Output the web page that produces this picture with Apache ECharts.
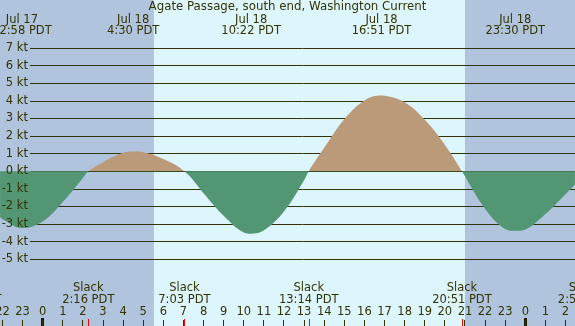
<!DOCTYPE html>
<html>
<head>
<meta charset="utf-8">
<title>Agate Passage, south end, Washington Current</title>
<script src="https://cdn.jsdelivr.net/npm/echarts@6.0.0/dist/echarts.min.js"></script>
<style>
  html, body { margin: 0; padding: 0; }
  #chart { width: 575px; height: 326px; }
</style>
</head>
<body>
<div id="chart"></div>
<script>
// hours counted from Jul 18 00:00 PDT, current in knots (flood +, ebb -)
const hours = [-2.12, -2, -1.03, 0, 1, 2, 2.27, 3, 4, 4.5, 5, 6, 7.05, 8, 9, 10, 10.37, 11, 12, 13, 13.23,
  14, 15, 16, 16.85, 17, 18, 19, 20, 20.85, 22, 23, 23.5, 24, 25, 26, 26.47];
const knots = [-2.6, -2.72, -3.22, -2.85, -1.75, -0.38, 0, 0.52, 1.05, 1.13, 1.08, 0.7, 0, -1.24, -2.52, -3.47, -3.54, -3.35, -2.28, -0.51, 0,
  1.33, 2.95, 4.02, 4.3, 4.29, 3.92, 2.93, 1.51, 0, -2.12, -3.27, -3.38, -3.3, -2.43, -1.3, -0.75];

// max current (top labels)
const peakHours = [-1.033, 4.5, 10.367, 16.85, 23.5];
const peakDays = ['Jul 17', 'Jul 18', 'Jul 18', 'Jul 18', 'Jul 18'];
const peakTimes = ['22:58', '4:30', '10:22', '16:51', '23:30'];

// slack water (bottom labels + red ticks)
const slackHours = [-3.533, 2.267, 7.05, 13.233, 20.85, 26.92];
const slackTimes = ['20:28', '2:16', '7:03', '13:14', '20:51', '2:55'];

// dark before sunrise / after sunset
const nightSpans = [[-6, 5.53], [21.0, 30]];

const hourTicks = [-2, -1, 0, 1, 2, 3, 4, 5, 6, 7, 8, 9, 10, 11, 12, 13, 14, 15, 16, 17, 18, 19, 20,
  21, 22, 23, 24, 25, 26];
const midnights = [0, 24];

const ink = '#333300';
const font = 'DejaVu Sans';
const fs = 11.5;
const xMin = -5.107, xMax = 29.457;
const yMin = -8.785, yMax = 9.727;

const chart = echarts.init(document.getElementById('chart'));

// every x axis of grid 0 shares the same hour scale
function hourAxis(extra) {
  return Object.assign({
    type: 'value', gridIndex: 0, min: xMin, max: xMax, position: 'bottom',
    axisLine: { show: false, onZero: false },
    splitLine: { show: false },
    axisTick: { show: false },
    axisLabel: { show: false }
  }, extra);
}

const option = {
  backgroundColor: '#ddf6fd',
  animation: false,
  textStyle: { fontFamily: font },
  title: {
    text: 'Agate Passage, south end, Washington Current',
    left: 'center',
    top: 1,
    padding: 0,
    textStyle: { fontFamily: font, fontSize: 11.8, fontWeight: 'normal', color: ink }
  },
  grid: [
    { left: -60, right: -60, top: 0, bottom: 0, outerBoundsMode: 'none' },
    { left: 30, right: 0, top: 48, height: 211.3, outerBoundsMode: 'none' },
    // same hour scale, but starting on a whole hour (-2 at x 2.48, 26 at x 565.5)
    { left: 2.48, right: 9.5, top: 0, bottom: 0, outerBoundsMode: 'none' }
  ],
  xAxis: [
    hourAxis({ // max current times, top
      position: 'top',
      axisLabel: {
        inside: true, margin: 14, fontSize: fs, lineHeight: 11.5, color: ink, customValues: peakHours,
        formatter: function (v) {
          const i = peakHours.indexOf(v);
          return peakDays[i] + '\n' + peakTimes[i] + ' PDT';
        }
      }
    }),
    hourAxis({ // slack
      axisTick: { show: true, inside: true, length: 7, customValues: slackHours, lineStyle: { color: '#ff0000' } },
      axisLabel: {
        show: true, inside: true, margin: 20, fontSize: fs, lineHeight: 12, color: ink, customValues: slackHours,
        formatter: function (v) { return 'Slack\n' + slackTimes[slackHours.indexOf(v)] + ' PDT'; }
      }
    }),
    hourAxis({ // midnight marks
      axisTick: { show: true, inside: true, length: 8, customValues: midnights, lineStyle: { color: '#1a1a00', width: 3 } }
    }),
    { type: 'value', gridIndex: 1, min: 0, max: 1, show: false },
    { // hour labels
      type: 'value', gridIndex: 2, min: -2, max: 26, interval: 1, position: 'bottom',
      axisLine: { show: false, onZero: false },
      splitLine: { show: false },
      axisTick: { show: false },
      axisLabel: {
        inside: true, margin: 8, fontSize: fs, color: ink, interval: 0,
        showMinLabel: true, showMaxLabel: true, hideOverlap: false,
        formatter: function (v) { return ((v % 24) + 24) % 24; }
      }
    }
  ],
  yAxis: [
    { type: 'value', gridIndex: 0, min: yMin, max: yMax, show: false },
    { // knot lines
      type: 'value', gridIndex: 1, min: -5, max: 7, interval: 1, position: 'left',
      axisLine: { show: false, onZero: false }, axisTick: { show: false }, axisLabel: { show: false },
      splitLine: { lineStyle: { color: ink, width: 1 } }
    },
    { // knot labels, above the curve
      type: 'value', gridIndex: 1, min: -5, max: 7, interval: 1, z: 10, position: 'left',
      axisLine: { show: false, onZero: false }, axisTick: { show: false }, splitLine: { show: false },
      axisLabel: { margin: 2, fontSize: fs, color: ink, formatter: '{value} kt' }
    },
    { type: 'value', gridIndex: 2, min: 0, max: 1, show: false }
  ],
  visualMap: {
    show: false,
    type: 'piecewise',
    seriesIndex: 1,
    dimension: 1,
    pieces: [
      { gt: -100, lte: 0, color: '#529673' },
      { gt: 0, lte: 100, color: '#bb9a7a' }
    ]
  },
  series: [
    {
      type: 'custom',
      xAxisIndex: 0, yAxisIndex: 0,
      z: -1,
      silent: true,
      encode: { x: [0, 1] },
      data: nightSpans,
      renderItem: function (params, api) {
        const a = api.coord([api.value(0), 0]);
        const b = api.coord([api.value(1), 0]);
        return {
          type: 'rect',
          shape: { x: a[0], y: params.coordSys.y, width: b[0] - a[0], height: params.coordSys.height },
          style: { fill: '#b0c4de' }
        };
      }
    },
    {
      type: 'line',
      xAxisIndex: 0, yAxisIndex: 0,
      smooth: 0.4,
      showSymbol: false,
      lineStyle: { width: 0 },
      areaStyle: { opacity: 1 },
      data: hours.map(function (h, i) { return [h, knots[i]]; })
    },
    { // short hour ticks standing on the bottom edge
      type: 'custom',
      xAxisIndex: 0, yAxisIndex: 0,
      z: 5,
      silent: true,
      encode: { x: 0, y: 1 },
      data: hourTicks.map(function (h) { return [h, yMin]; }),
      renderItem: function (params, api) {
        const p = api.coord([api.value(0), api.value(1)]);
        const x = Math.floor(p[0]) + 0.5;
        return {
          type: 'line',
          shape: { x1: x, y1: p[1], x2: x, y2: p[1] - 6 },
          style: { stroke: ink, lineWidth: 1 }
        };
      }
    }
  ]
};

chart.setOption(option);
</script>
</body>
</html>
